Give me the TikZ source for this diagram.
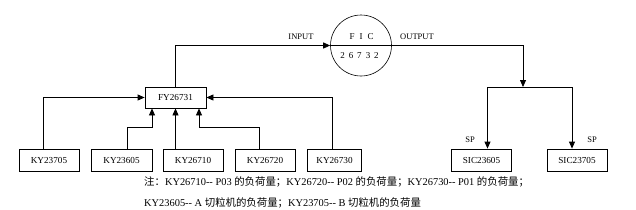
\documentclass[tikz,border=0pt]{standalone}
\usepackage{fontspec}
\setmainfont{Liberation Serif}
\newfontfamily\cjk{Noto Sans CJK SC}
\usepackage{tikz}
\usetikzlibrary{arrows.meta,positioning}
\newcommand{\zh}[1]{{\cjk #1}}

\begin{document}
\begin{tikzpicture}[
        x=1pt, y=-1pt,
        kybox/.style={rectangle, draw, line width=0.8pt, minimum width=60pt, minimum height=22pt, inner sep=1pt, font=\fontsize{9.2}{10}\selectfont},
        ficnode/.style={circle, draw, line width=0.6pt, minimum size=61pt, inner sep=0pt},
        conn/.style={draw, line width=0.8pt, -{Triangle[length=7pt,width=6pt]}},
        lbl/.style={font=\fontsize{8.5}{9}\selectfont, inner sep=1pt},
        note/.style={font=\fontsize{10.4}{12}\selectfont, anchor=west, inner sep=0pt},
    ]
        \useasboundingbox (0,0) rectangle (636,209);

        % Controller and valve
        \node[kybox, minimum width=61pt, minimum height=21pt] (fy) at (175.5, 97.5) {FY26731};
        \node[ficnode] (fic) at (361, 45.5) {};
        \draw[line width=0.6pt] (fic.west) -- (fic.east); % divider
        \node[lbl, font=\fontsize{9}{10}\selectfont] (ficname) at (361.5, 36.5) {F\hspace{5pt}I\hspace{5pt}C};
        \node[lbl, font=\fontsize{9}{10}\selectfont] (ficnum) at (359.5, 56) {2\hspace{4pt}6\hspace{4pt}7\hspace{4pt}3\hspace{4pt}2};

        % Load signals (bottom left)
        \node[kybox] (ky23705) at (49, 160) {KY23705};
        \node[kybox, minimum width=61pt] (ky23605) at (121.5, 160) {KY23605};
        \node[kybox] (ky26710) at (193, 160) {KY26710};
        \node[kybox] (ky26720) at (265, 160) {KY26720};
        \node[kybox, minimum width=54pt] (ky26730) at (334.5, 160) {KY26730};

        % Slave controllers (bottom right)
        \node[kybox] (sic23605) at (481.5, 160) {SIC23605};
        \node[kybox] (sic23705) at (577, 160) {SIC23705};
        \coordinate (split) at (523, 87);

        % Connectors into FY26731
        \draw[conn] ([xshift=-6pt]ky23705.north) |- (fy.west);
        \draw[conn] ([xshift=-2.5pt]ky26730.north) |- (fy.east);
        \draw[conn] (ky26710.north -| fy.south) -- (fy.south);
        \draw[conn] ([xshift=6pt]ky23605.north) -- ++(0,-21) -| ([xshift=-23.5pt]fy.south);
        \draw[conn] ([xshift=-6pt]ky26720.north) -- ++(0,-21) -| ([xshift=23.5pt]fy.south);

        % Loop through FIC26732
        \draw[conn] (fy.north) |- (fic.west);
        \draw[conn] (fic.east) -| (split);
        \draw[conn] (split) -| ([xshift=6pt]sic23605.north);
        \draw[conn] (split) -| ([xshift=-5pt]sic23705.north);

        \node[lbl] (input) at (301, 37) {INPUT};
        \node[lbl] (output) at (417, 37) {OUTPUT};
        \node[lbl] (sp1) at (470, 140) {SP};
        \node[lbl] (sp2) at (592, 140) {SP};

        % Notes
        \node[note] (note1) at (144, 182) {\zh{注：}KY26710-{}- P03 \zh{的负荷量；}KY26720-{}- P02 \zh{的负荷量；}KY26730-{}- P01 \zh{的负荷量；}};
        \node[note] (note2) at (144, 203) {KY23605-{}- A \zh{切粒机的负荷量；}KY23705-{}- B \zh{切粒机的负荷量}};
    \end{tikzpicture}
\end{document}
